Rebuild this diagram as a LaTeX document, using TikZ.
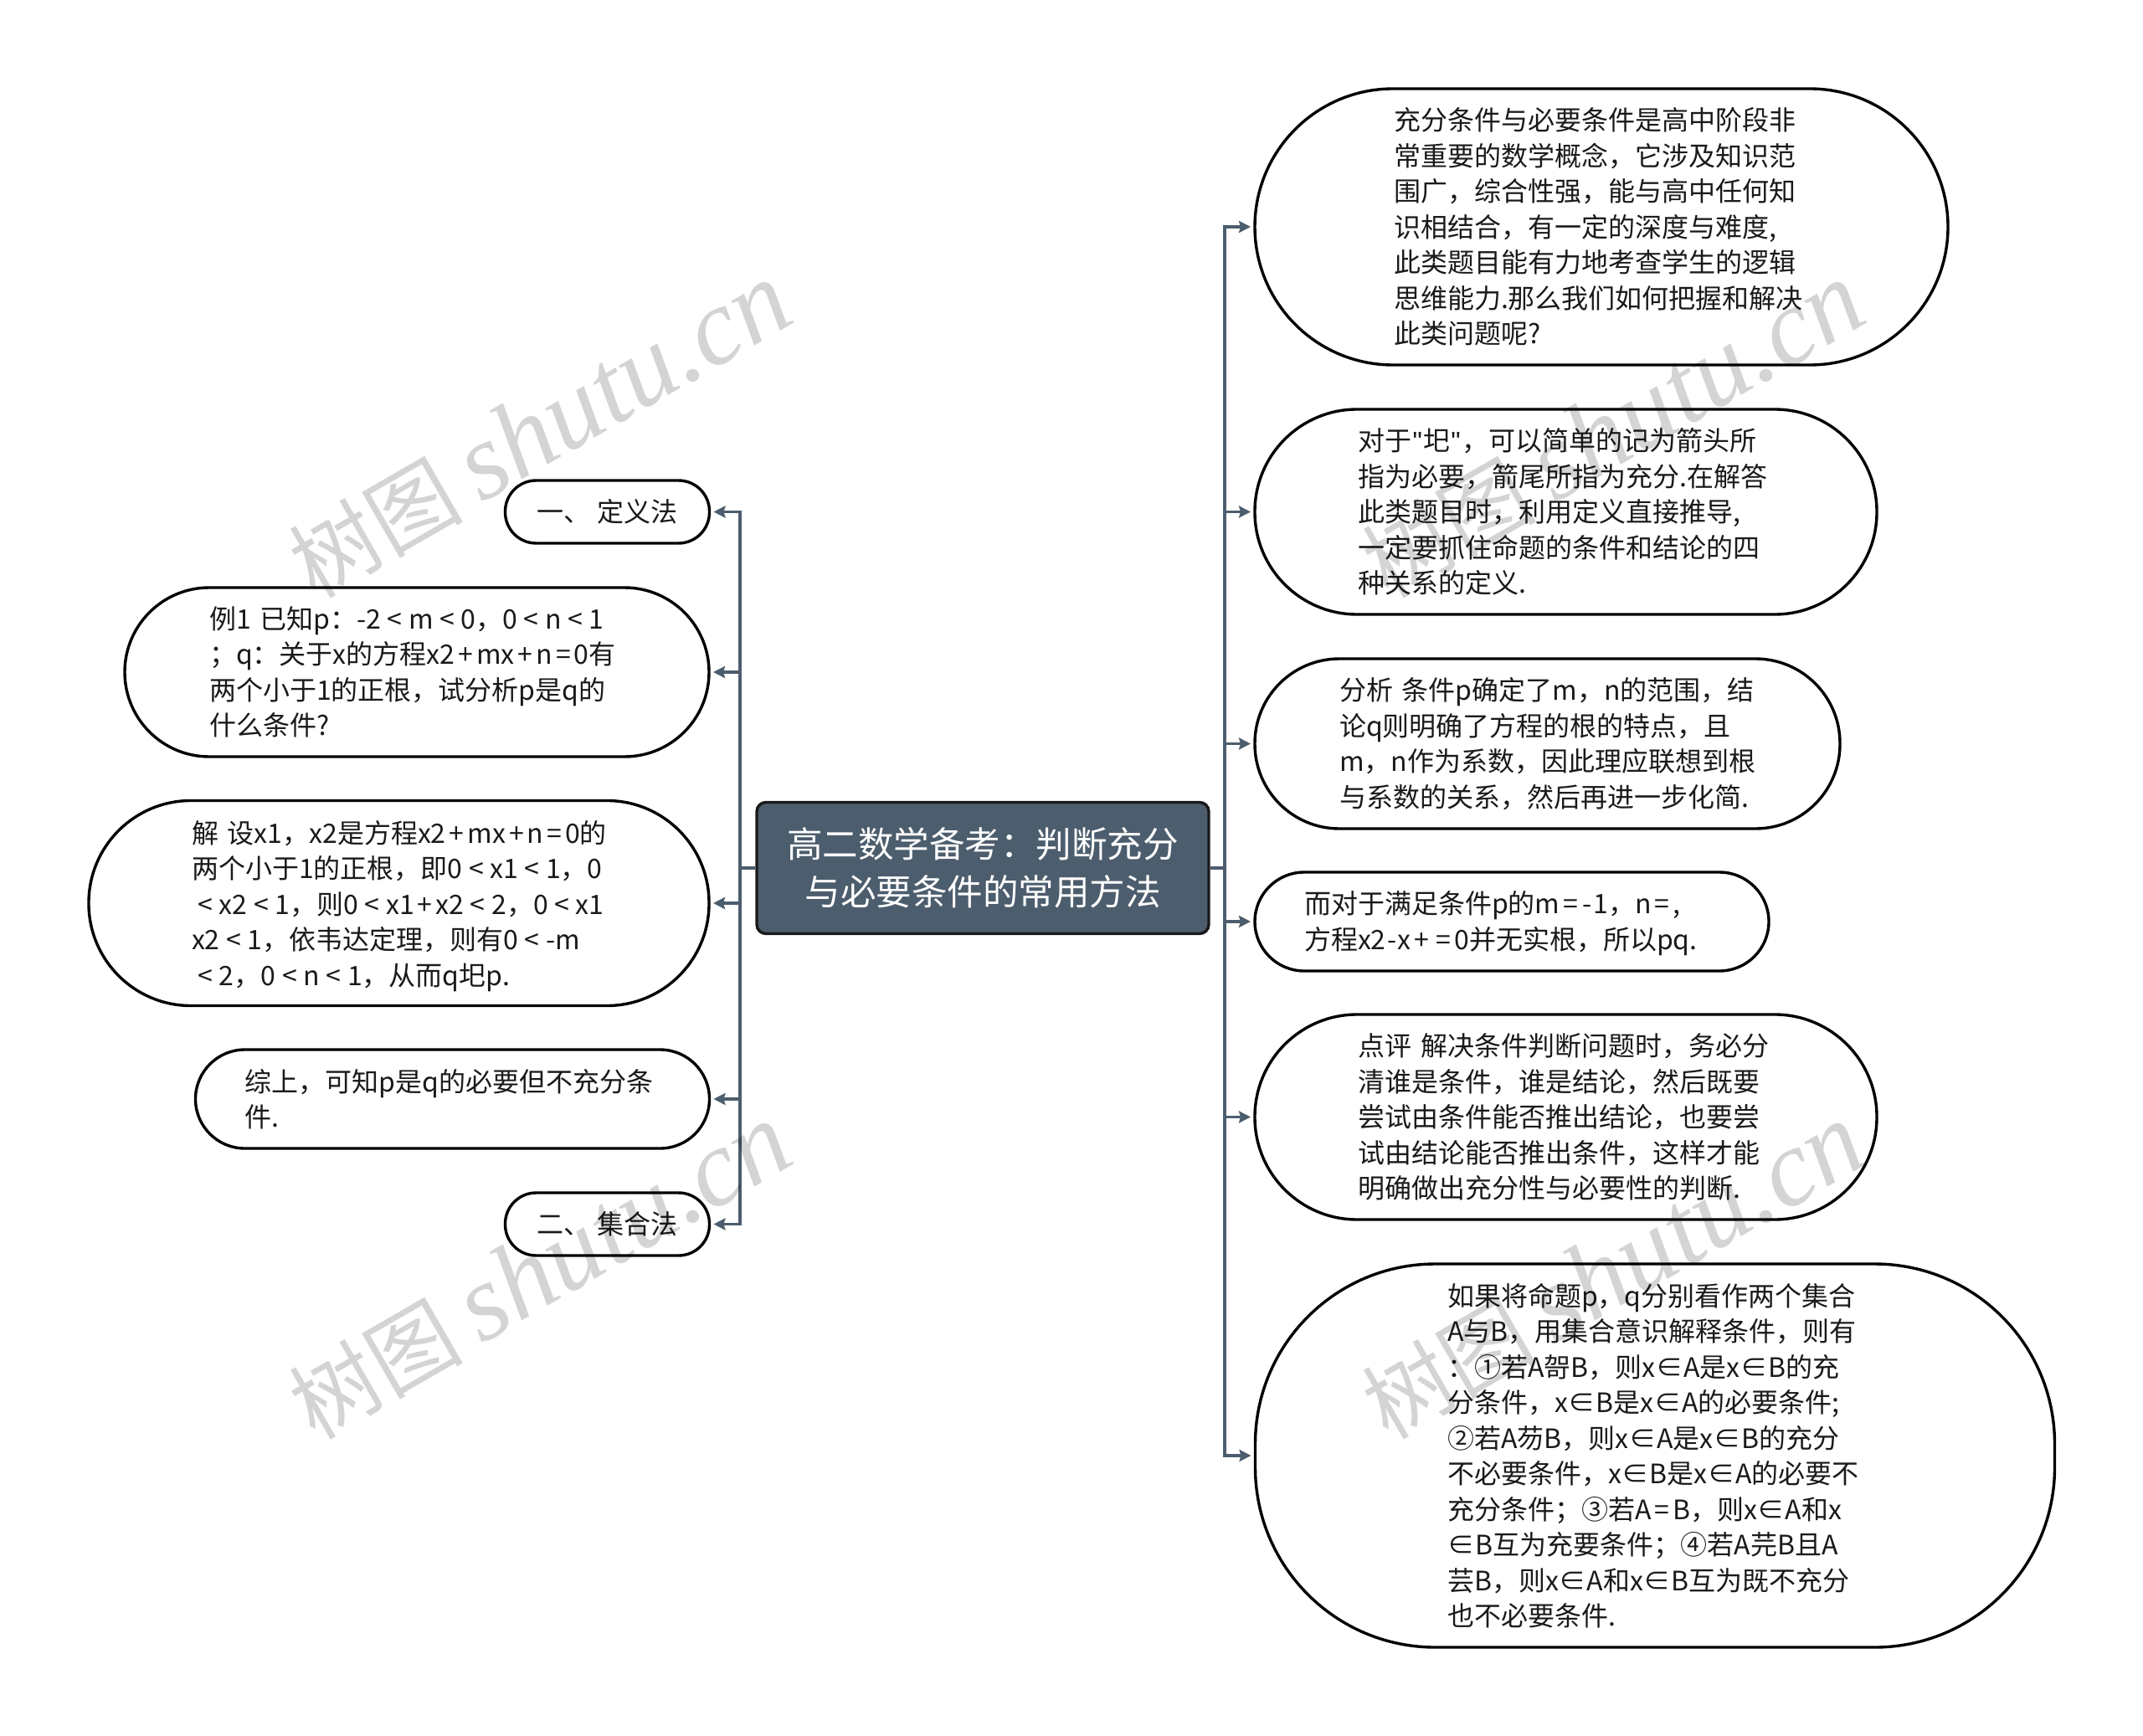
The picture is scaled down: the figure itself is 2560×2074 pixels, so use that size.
\documentclass[tikz,border=0pt]{standalone}
\usepackage{fontspec}
\setmainfont{Noto Sans CJK SC}
\newfontfamily\wmcjk{Noto Sans CJK SC}
\newfontfamily\wmlat{Liberation Serif}
\newfontfamily\quotefont{Liberation Sans}
\usetikzlibrary{arrows.meta}
\definecolor{slate}{HTML}{4C5D6D}
\definecolor{ink}{HTML}{1A1A1A}
\newcommand{\LL}[1]{\mbox{#1}}
\newcommand{\opP}{\kern4pt+\kern4pt}
\newcommand{\opE}{\kern4pt=\kern4pt}
\newcommand{\opL}{\makebox[33pt]{<}}
\newcommand{\opI}{\kern0.8pt∈\kern0.8pt}
\newcommand{\opM}{\kern1.5pt-\kern1.5pt}
\newcommand{\qm}{\kern1.2pt{\quotefont"}\kern1.2pt}
\newcommand{\wmtext}{{\wmcjk\fontsize{104}{104}\selectfont 树图}\kern22pt{\wmlat\itshape shutu.cn}}
\tikzset{
  x=1pt,y=-1pt,
  leaf/.style={draw=black,line width=3.4pt,fill=white,rectangle,inner sep=0pt,outer sep=0pt,
    text=ink,align=left,font=\fontsize{32}{42.5}\selectfont},
  rootbox/.style={draw=black!90,line width=3.4pt,fill=slate,rectangle,rounded corners=11pt,inner sep=0pt,
    text=white,align=center,font=\fontsize{42.5}{56.5}\selectfont},
  link/.style={draw=slate,line width=3.5pt,-{Stealth[length=14pt,width=14pt,inset=2pt]},shorten >=5pt},
  stub/.style={draw=slate,line width=3.5pt},
  wmark/.style={rotate=30,text=black,text opacity=0.17,inner sep=0pt,font=\fontsize{130}{130}\selectfont}
}
\begin{document}
\begin{tikzpicture}
\fill[white] (0,0) rectangle (2560,2074);
\useasboundingbox (0,0) rectangle (2560,2074);

\node[rootbox,minimum width=540pt,minimum height=157pt] (root) at (1174,1037)
 {高二数学备考：判断充分\\与必要条件的常用方法};

% left
\node[leaf,rounded corners=37pt,minimum width=244pt,minimum height=75pt] (l1) at (725.5,611.5)
 {\LL{一、 定义法}};
\node[leaf,rounded corners=101pt,minimum width=698pt,minimum height=202pt,text width=496pt] (l2) at (498,803)
 {\LL{例1 已知p：-2\opL{}m\opL{}0，0\opL{}n\opL{}1}\\\LL{；q：关于x的方程x2\opP{}mx\opP{}n\opE{}0有}\\\LL{两个小于1的正根，试分析p是q的}\\\LL{什么条件?}};
\node[leaf,rounded corners=122pt,minimum width=741pt,minimum height=245pt,text width=495pt] (l3) at (476.5,1079)
 {\LL{\rule{0pt}{34pt}解 设x1，x2是方程x2\opP{}mx\opP{}n\opE{}0的}\\\LL{两个小于1的正根，即0\opL{}x1\opL{}1，0}\\\LL{\opL{}x2\opL{}1，则0\opL{}x1\opP{}x2\opL{}2，0\opL{}x1}\\\LL{x2\opL{}1，依韦达定理，则有0\opL{}-m}\\\LL{\opL{}2，0\opL{}n\opL{}1，从而q圯p.}};
\node[leaf,rounded corners=59pt,minimum width=614pt,minimum height=118pt,text width=496pt] (l4) at (540.5,1313)
 {\LL{综上，可知p是q的必要但不充分条}\\\LL{件.}};
\node[leaf,rounded corners=37pt,minimum width=244pt,minimum height=75pt] (l5) at (725.5,1462.5)
 {\LL{二、 集合法}};

% right
\node[leaf,rounded corners=165pt,minimum width=828pt,minimum height=330pt,text width=496pt] (r1) at (1913,271)
 {\LL{充分条件与必要条件是高中阶段非}\\\LL{常重要的数学概念，它涉及知识范}\\\LL{围广，综合性强，能与高中任何知}\\\LL{识相结合，有一定的深度与难度,}\\\LL{此类题目能有力地考查学生的逻辑}\\\LL{思维能力.那么我们如何把握和解决}\\\LL{此类问题呢?}};
\node[leaf,rounded corners=122pt,minimum width=743pt,minimum height=245pt,text width=496pt] (r2) at (1870.5,611.5)
 {\LL{对于\qm{}圯\qm{}，可以简单的记为箭头所}\\\LL{指为必要，箭尾所指为充分.在解答}\\\LL{此类题目时，利用定义直接推导,}\\\LL{一定要抓住命题的条件和结论的四}\\\LL{种关系的定义.}};
\node[leaf,rounded corners=101pt,minimum width=699pt,minimum height=203pt,text width=497pt] (r3) at (1848.5,888.5)
 {\LL{分析 条件p确定了m，n的范围，结}\\\LL{论q则明确了方程的根的特点，且}\\\LL{m，n作为系数，因此理应联想到根}\\\LL{与系数的关系，然后再进一步化简.}};
\node[leaf,rounded corners=59pt,minimum width=614pt,minimum height=118pt,text width=496pt] (r4) at (1806,1101)
 {\LL{\rule{0pt}{31.5pt}而对于满足条件p的m\opE{}\opM{}1，n\opE{},}\\\LL{方程x2\opM{}x\opP{}\opE{}0并无实根，所以pq.}};
\node[leaf,rounded corners=122pt,minimum width=743pt,minimum height=245pt,text width=496pt] (r5) at (1870.5,1334.5)
 {\LL{点评 解决条件判断问题时，务必分}\\\LL{清谁是条件，谁是结论，然后既要}\\\LL{尝试由条件能否推出结论，也要尝}\\\LL{试由结论能否推出条件，这样才能}\\\LL{明确做出充分性与必要性的判断.}};
\node[leaf,rounded corners=215pt,minimum width=955pt,minimum height=458pt,text width=496pt] (r6) at (1977,1739)
 {\LL{如果将命题p，q分别看作两个集合}\\\LL{A与B，用集合意识解释条件，则有}\\\LL{：①若A哿B，则x\opI{}A是x\opI{}B的充}\\\LL{分条件，x\opI{}B是x\opI{}A的必要条件;}\\\LL{②若A芴B，则x\opI{}A是x\opI{}B的充分}\\\LL{不必要条件，x\opI{}B是x\opI{}A的必要不}\\\LL{充分条件；③若A\opE{}B，则x\opI{}A和x}\\\LL{\opI{}B互为充要条件；④若A芫B且A}\\\LL{芸B，则x\opI{}A和x\opI{}B互为既不充分}\\\LL{也不必要条件.}};

% trunks
\coordinate (tl) at (884,1037);
\coordinate (tr) at (1463,1037);
\draw[stub] (root.west) -- (tl);
\draw[stub] (root.east) -- (tr);
\foreach \n in {l1,l2,l3,l4,l5} \draw[link] (tl) |- (\n.east);
\foreach \n in {r1,r2,r3,r4,r5,r6} \draw[link] (tr) |- (\n.west);

% watermarks
\node[wmark] (w1) at (645,514) {\wmtext};
\node[wmark] (w2) at (645,1519) {\wmtext};
\node[wmark] (w3) at (1927,514) {\wmtext};
\node[wmark] (w4) at (1927,1519) {\wmtext};
\end{tikzpicture}
\end{document}
